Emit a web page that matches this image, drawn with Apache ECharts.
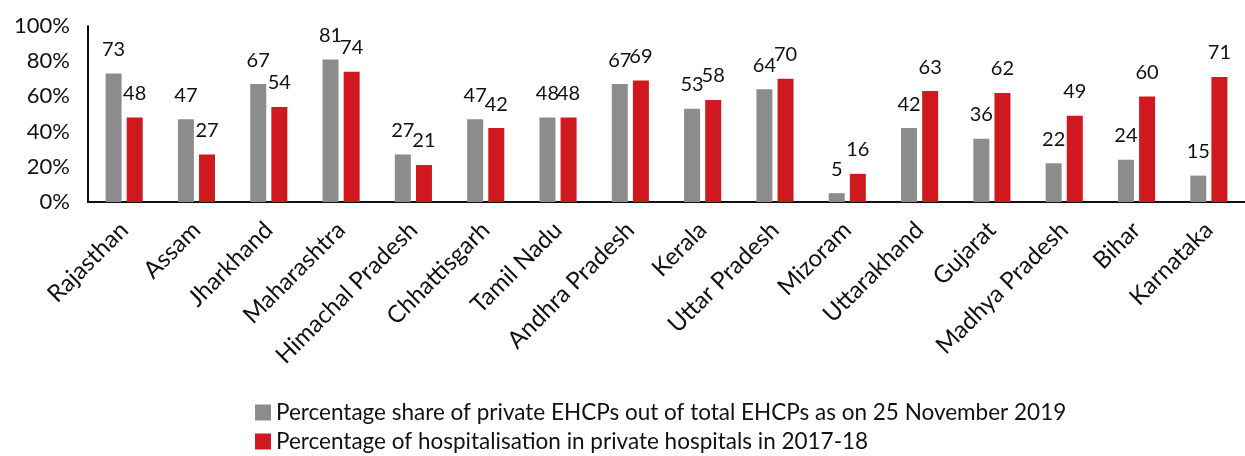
<!DOCTYPE html>
<html lang="en">
<head>
<meta charset="utf-8">
<title>Private EHCPs vs private hospitalisation</title>
<script src="https://cdn.jsdelivr.net/npm/echarts@6/dist/echarts.min.js"></script>
<style type="text/css">
html, body { margin: 0; padding: 0; background: #fff; }
#chart { width: 1245px; height: 456px; }
</style>
</head>
<body>
<div id="chart"></div>
<script>
// states on the x axis
var states = ['Rajasthan', 'Assam', 'Jharkhand', 'Maharashtra', 'Himachal Pradesh', 'Chhattisgarh',
  'Tamil Nadu', 'Andhra Pradesh', 'Kerala', 'Uttar Pradesh', 'Mizoram', 'Uttarakhand',
  'Gujarat', 'Madhya Pradesh', 'Bihar', 'Karnataka'];
// share of private EHCPs (%)
var ehcpShare = [73, 47, 67, 81, 27, 47, 48, 67, 53, 64, 5, 42, 36, 22, 24, 15];
// hospitalisation in private hospitals (%)
var privHosp = [48, 27, 54, 74, 21, 42, 48, 69, 58, 70, 16, 63, 62, 49, 60, 71];
var seriesNames = ['Percentage share of private EHCPs out of total EHCPs as on 25 November 2019',
  'Percentage of hospitalisation in private hospitals in 2017-18'];

var font = 'Lato, "Noto Sans", sans-serif';
var labelStyle = { show: true, position: 'top', distance: 14, color: '#111', fontSize: 20, fontFamily: font };

var chart = echarts.init(document.getElementById('chart'));
chart.setOption({
  animation: false,
  textStyle: { fontFamily: font },
  grid: { left: 88, top: 26, width: 1170, bottom: 254 },
  legend: {
    orient: 'vertical', left: 250, top: 396, itemGap: 6, height: 60,
    itemWidth: 16, itemHeight: 16, icon: 'rect',
    textStyle: { fontSize: 22.5, color: '#111', fontFamily: font },
    data: seriesNames
  },
  xAxis: {
    type: 'category', data: states,
    axisLine: { lineStyle: { color: '#111', width: 2 } },
    axisTick: { show: false },
    axisLabel: { rotate: 45, margin: 24, fontSize: 24, color: '#111', interval: 0 }
  },
  yAxis: {
    type: 'value', min: 0, max: 100, interval: 20,
    axisLine: { show: true, lineStyle: { color: '#111', width: 2 } },
    axisTick: { show: false },
    splitLine: { show: false },
    axisLabel: { formatter: '{value}%', fontSize: 22, color: '#111', margin: 18 }
  },
  series: [
    { name: seriesNames[0], type: 'bar', data: ehcpShare, barWidth: 16, barGap: '32%',
      itemStyle: { color: '#8c8c8c' }, label: labelStyle },
    { name: seriesNames[1], type: 'bar', data: privHosp, barWidth: 16,
      itemStyle: { color: '#d0191f' }, label: labelStyle }
  ]
});
</script>
</body>
</html>
